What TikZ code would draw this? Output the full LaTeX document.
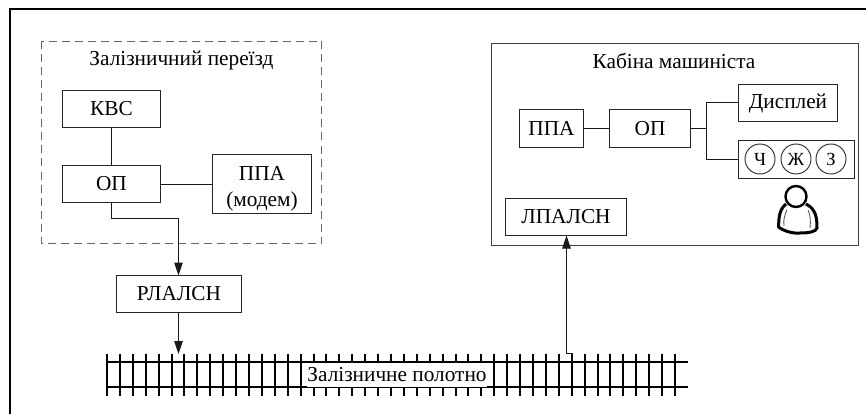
\documentclass[tikz,border=0pt]{standalone}
\usepackage{fontspec}
\setmainfont{Liberation Serif}
\usetikzlibrary{arrows.meta,calc}
\tikzset{
  box/.style={draw=black!85,line width=1pt,fill=white,inner sep=0pt,outer sep=0pt,align=center,font=\fontsize{21.3}{23}\selectfont},
  title/.style={inner sep=0pt,font=\fontsize{21.3}{23}\selectfont},
  lamp/.style={circle,draw=black!85,line width=0.9pt,minimum size=30pt,inner sep=0pt,font=\fontsize{18.5}{20}\selectfont},
  link/.style={draw=black!90,line width=1pt},
  arrowlink/.style={link,-{Triangle[length=13pt,width=8.5pt]}},
  rail/.style={draw=black,line width=2pt},
  sleeper/.style={draw=black,line width=1.7pt},
}
\begin{document}
\begin{tikzpicture}[x=1pt,y=-1pt]
\useasboundingbox (0,0) rectangle (866,414);
% outer frame runs off the page at right and bottom
\draw[black,line width=2pt] (10,414) -- (10,9) -- (866,9);
% zones
\draw[black!60,line width=1pt,dash pattern=on 8pt off 5pt] (41.5,41.5) rectangle (321.5,243.5);
\draw[black!75,line width=1pt] (491.5,43.5) rectangle (858.5,245.5);
\node[title] (t1) at (181.5,60) {Залізничний переїзд};
\node[title] (t2) at (674,60.5) {Кабіна машиніста};
% left zone
\node[box,minimum width=98pt,minimum height=37pt] (kvs) at (111.5,109) {КВС};
\node[box,minimum width=98pt,minimum height=37pt] (op1) at (111.5,184) {ОП};
\node[box,minimum width=99pt,minimum height=59pt] (ppa1) at (262,184) {\rule{0pt}{23pt}ППА\\[3pt](модем)};
\node[box,minimum width=125pt,minimum height=37pt] (rl) at (179,294) {РЛАЛСН};
% right zone
\node[box,minimum width=64pt,minimum height=38pt] (ppa2) at (551.5,128.5) {ППА};
\node[box,minimum width=81pt,minimum height=38pt] (op2) at (650,128.5) {ОП};
\node[box,minimum width=99pt,minimum height=37pt] (disp) at (788,103) {Дисплей};
\node[box,minimum width=116pt,minimum height=38pt] (lights) at (796.5,159.5) {};
\node[lamp] (lc) at (760,159) {Ч};
\node[lamp] (lzh) at (796,159) {Ж};
\node[lamp] (lz) at (831,159) {З};
\node[box,minimum width=121pt,minimum height=37pt] (lp) at (566,217) {ЛПАЛСН};
% links
\draw[link] (kvs) -- (op1);
\draw[link] ([yshift=-0.5pt]op1.east) -- ([yshift=-0.5pt]ppa1.west);
\draw[link] (ppa2) -- (op2);
\coordinate (j1) at (706.5,128.5);
\draw[link] (op2) -- (j1);
\draw[link] (j1) |- ([yshift=0.5pt]disp.west);
\draw[link] (j1) |- (lights.west);
% track
\foreach \i in {0,...,44} {
  \pgfmathsetmacro{\tx}{round(107+12.91*\i)}
  \draw[sleeper] (\tx,353.5) -- (\tx,396);
}
\draw[rail] (107,362) -- (688,362);
\draw[rail] (107,387) -- (688,387);
\node[fill=white,inner sep=0pt,minimum width=180pt,minimum height=24pt,font=\fontsize{21.3}{23}\selectfont] (track) at (397,374.5) {Залізничне полотно};
% signal connectors
\coordinate (trkin) at (178.5,354);
\coordinate (trkout) at (572.5,362);
\draw[arrowlink] (op1.south) -- (111.5,218.5) -- (178.5,218.5) -- ([xshift=-0.5pt]rl.north);
\draw[arrowlink] ([xshift=-0.5pt]rl.south) -- (trkin);
\draw[arrowlink] (trkout) -- (572.5,353.5) -- (566.5,353.5) -- ([xshift=0.5pt]lp.south);
% driver
\draw[black,line width=2.4pt] (796,196.5) circle (10.5pt);
\draw[black,line width=3pt,line join=round] (786,204) .. controls (778,210) and (779,222) .. (778.5,227)
  .. controls (782,230) and (792,234) .. (800,233)
  .. controls (808,233) and (816,232) .. (817,228)
  .. controls (817,218) and (816,209) .. (806,204);
\draw[black!70,line width=0.8pt] (784,226) .. controls (783,220) and (785,214) .. (787,210);
\draw[black!70,line width=0.8pt] (810,228) .. controls (811,221) and (810,214) .. (808,210);
\end{tikzpicture}
\end{document}
